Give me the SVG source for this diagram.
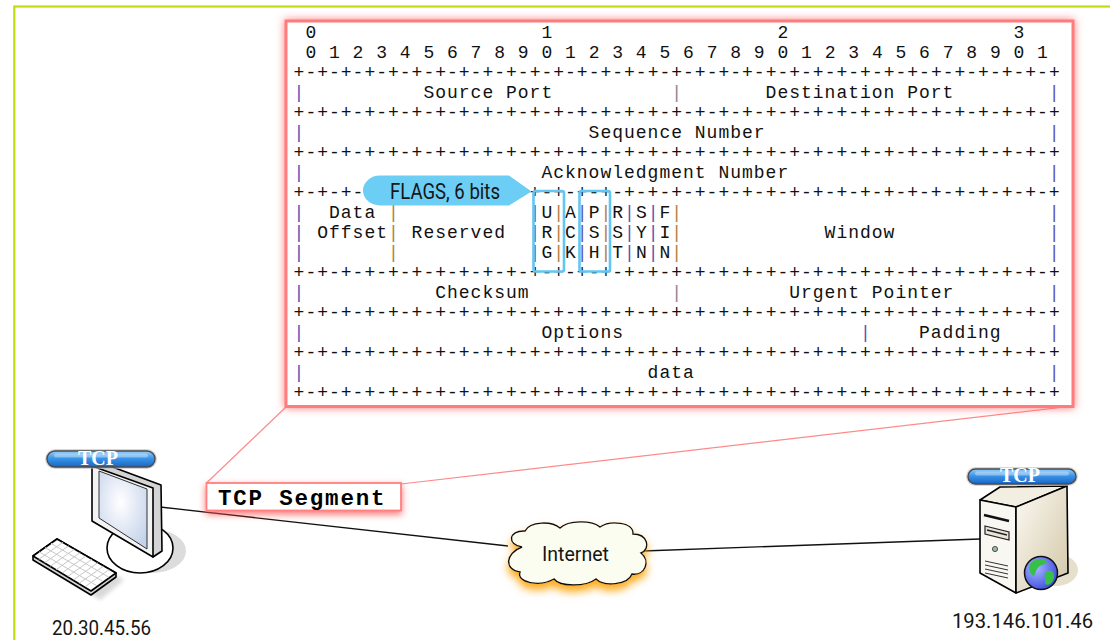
<svg xmlns="http://www.w3.org/2000/svg" width="1110" height="640" viewBox="0 0 1110 640">
<defs>
<style>
.m{font-family:"Liberation Mono","DejaVu Sans Mono",monospace;font-size:18px;letter-spacing:1px;fill:#111}
.b{fill:#5a52b4}
.o{fill:#b4803c}
.g{fill:#8c8494}
.lbl{font-family:Roboto,"Liberation Sans",sans-serif;fill:#151515}
.pill{stroke:#4a4a4a;stroke-width:1.4;fill:url(#pillG)}
.pilltxt{font-family:"Liberation Serif",serif;font-weight:bold;font-size:20px;fill:#fff;text-anchor:middle}
.flag{fill:none;stroke:#62c6f2;stroke-width:2.6}
.ink{stroke:#000;stroke-width:1.6;stroke-linejoin:round}
.key{stroke:#c8c8c8;stroke-width:1}
</style>
<linearGradient id="pillG" x1="0" y1="0" x2="0" y2="1">
<stop offset="0" stop-color="#9ad0fa"/><stop offset="0.45" stop-color="#3b95e8"/><stop offset="1" stop-color="#1766c6"/>
</linearGradient>
<radialGradient id="scr" cx="0.45" cy="0.4" r="0.7">
<stop offset="0" stop-color="#ffffff"/><stop offset="1" stop-color="#c4d2ea"/>
</radialGradient>
<linearGradient id="srvSide" x1="0" y1="0" x2="1" y2="1">
<stop offset="0" stop-color="#fcfaf4"/><stop offset="1" stop-color="#d2c6a6"/>
</linearGradient>
<radialGradient id="globeG" cx="0.35" cy="0.35" r="0.75">
<stop offset="0" stop-color="#a8b6ff"/><stop offset="1" stop-color="#3646dc"/>
</radialGradient>
<filter id="redGlow" x="-10%" y="-10%" width="120%" height="120%">
<feGaussianBlur in="SourceAlpha" stdDeviation="4.5" result="bl"/>
<feFlood flood-color="#ff5a5a" flood-opacity="0.8"/>
<feComposite in2="bl" operator="in"/>
<feMerge><feMergeNode/><feMergeNode in="SourceGraphic"/></feMerge>
</filter>
<filter id="labelGlow" x="-20%" y="-50%" width="140%" height="220%">
<feGaussianBlur in="SourceAlpha" stdDeviation="3.5" result="bl"/>
<feOffset dy="3" result="of"/>
<feFlood flood-color="#ff5050" flood-opacity="0.8"/>
<feComposite in2="of" operator="in"/>
<feMerge><feMergeNode/><feMergeNode in="SourceGraphic"/></feMerge>
</filter>
<filter id="cloudGlow" x="-20%" y="-30%" width="140%" height="170%">
<feGaussianBlur in="SourceAlpha" stdDeviation="4" result="bl"/>
<feOffset dy="6" result="of"/>
<feFlood flood-color="#ffa000" flood-opacity="0.9"/>
<feComposite in2="of" operator="in"/>
<feMerge><feMergeNode/><feMergeNode in="SourceGraphic"/></feMerge>
</filter>
<filter id="soft" x="-30%" y="-30%" width="160%" height="160%">
<feGaussianBlur stdDeviation="2"/>
</filter>
</defs>

<!-- outer frame -->
<rect x="14.3" y="6.5" width="1200" height="700" fill="#fff" stroke="#c2dc0c" stroke-width="2.2"/>

<!-- links -->
<g id="connectors" fill="none">
<line x1="286" y1="407" x2="206.5" y2="483" stroke="#ff8a8a" stroke-width="1.2"/>
<line x1="401" y1="484" x2="1073" y2="406" stroke="#ff8a8a" stroke-width="1.2"/>
<line x1="160" y1="507" x2="508" y2="546" stroke="#111" stroke-width="1.3"/>
<line x1="643" y1="551" x2="980" y2="539" stroke="#111" stroke-width="1.3"/>
</g>

<!-- TCP header layout -->
<g id="tcp-header">
<rect x="286" y="21" width="787" height="385.5" fill="#fff" stroke="#ff7c7c" stroke-width="3" filter="url(#redGlow)"/>
<g class="m">
<text y="37.5"><tspan x="305.4">0</tspan><tspan x="541.4">1</tspan><tspan x="777.4">2</tspan><tspan x="1013.4">3</tspan></text>
<text x="305.4" y="57.5">0 1 2 3 4 5 6 7 8 9 0 1 2 3 4 5 6 7 8 9 0 1 2 3 4 5 6 7 8 9 0 1</text>
<text x="293.6" y="77.5">+-+-+-+-+-+-+-+-+-+-+-+-+-+-+-+-+-+-+-+-+-+-+-+-+-+-+-+-+-+-+-+-+</text>
<text y="97.5"><tspan class="b" x="293.6">|</tspan><tspan x="423.4">Source Port</tspan><tspan class="g" x="671.2">|</tspan><tspan x="765.6">Destination Port</tspan><tspan class="b" x="1048.8">|</tspan></text>
<text x="293.6" y="117.5">+-+-+-+-+-+-+-+-+-+-+-+-+-+-+-+-+-+-+-+-+-+-+-+-+-+-+-+-+-+-+-+-+</text>
<text y="137.5"><tspan class="b" x="293.6">|</tspan><tspan x="588.6">Sequence Number</tspan><tspan class="b" x="1048.8">|</tspan></text>
<text x="293.6" y="157.5">+-+-+-+-+-+-+-+-+-+-+-+-+-+-+-+-+-+-+-+-+-+-+-+-+-+-+-+-+-+-+-+-+</text>
<text y="177.5"><tspan class="b" x="293.6">|</tspan><tspan x="541.4">Acknowledgment Number</tspan><tspan class="b" x="1048.8">|</tspan></text>
<text y="197.5"><tspan x="293.6">+-+-+-</tspan><tspan x="529.6">+-+-+-+-+-+-+-+-+-+-+-+-+-+-+-+-+-+-+-+-+-+-+</tspan></text>
<text y="217.5"><tspan class="b" x="293.6">|</tspan><tspan x="329">Data</tspan><tspan class="o" x="388">|</tspan><tspan class="b" x="529.6">|</tspan>U<tspan class="o">|</tspan>A<tspan class="b">|</tspan>P<tspan class="o">|</tspan>R<tspan class="b">|</tspan>S<tspan class="b">|</tspan>F<tspan class="o">|</tspan><tspan class="b" x="1048.8">|</tspan></text>
<text y="237.5"><tspan class="b" x="293.6">|</tspan><tspan x="317.2">Offset</tspan><tspan class="o" x="388">|</tspan><tspan x="411.6">Reserved</tspan><tspan class="b" x="529.6">|</tspan>R<tspan class="o">|</tspan>C<tspan class="b">|</tspan>S<tspan class="o">|</tspan>S<tspan class="b">|</tspan>Y<tspan class="b">|</tspan>I<tspan class="o">|</tspan><tspan x="824.6">Window</tspan><tspan class="b" x="1048.8">|</tspan></text>
<text y="257.5"><tspan class="b" x="293.6">|</tspan><tspan class="o" x="388">|</tspan><tspan class="b" x="529.6">|</tspan>G<tspan class="o">|</tspan>K<tspan class="b">|</tspan>H<tspan class="o">|</tspan>T<tspan class="b">|</tspan>N<tspan class="b">|</tspan>N<tspan class="o">|</tspan><tspan class="b" x="1048.8">|</tspan></text>
<text x="293.6" y="277.5">+-+-+-+-+-+-+-+-+-+-+-+-+-+-+-+-+-+-+-+-+-+-+-+-+-+-+-+-+-+-+-+-+</text>
<text y="297.5"><tspan class="b" x="293.6">|</tspan><tspan x="435.2">Checksum</tspan><tspan class="g" x="671.2">|</tspan><tspan x="789.2">Urgent Pointer</tspan><tspan class="b" x="1048.8">|</tspan></text>
<text x="293.6" y="317.5">+-+-+-+-+-+-+-+-+-+-+-+-+-+-+-+-+-+-+-+-+-+-+-+-+-+-+-+-+-+-+-+-+</text>
<text y="337.5"><tspan class="b" x="293.6">|</tspan><tspan x="541.4">Options</tspan><tspan class="b" x="860">|</tspan><tspan x="919">Padding</tspan><tspan class="b" x="1048.8">|</tspan></text>
<text x="293.6" y="357.5">+-+-+-+-+-+-+-+-+-+-+-+-+-+-+-+-+-+-+-+-+-+-+-+-+-+-+-+-+-+-+-+-+</text>
<text y="377.5"><tspan class="b" x="293.6">|</tspan><tspan x="647.6">data</tspan><tspan class="b" x="1048.8">|</tspan></text>
<text x="293.6" y="397.5">+-+-+-+-+-+-+-+-+-+-+-+-+-+-+-+-+-+-+-+-+-+-+-+-+-+-+-+-+-+-+-+-+</text>
</g>
<!-- URG and PSH highlights -->
<rect class="flag" x="533.5" y="191" width="30.5" height="80.5" rx="2"/>
<rect class="flag" x="579.5" y="191" width="30.5" height="80.5" rx="2"/>
</g>

<!-- flags callout -->
<g id="flags-callout">
<path d="M380,175.5 H509 L531.5,191.5 L509,205.5 H380 A17,15 0 0 1 380,175.5 Z" fill="#6ccdf5"/>
<text class="lbl" x="390" y="199" font-size="22" textLength="110" lengthAdjust="spacingAndGlyphs">FLAGS, 6 bits</text>
</g>

<!-- segment label -->
<g id="tcp-segment">
<rect x="206.5" y="483" width="194.5" height="27.5" fill="#fff" stroke="#ff8080" stroke-width="1.8" filter="url(#labelGlow)"/>
<text x="218" y="505" font-family="'Liberation Mono','DejaVu Sans Mono',monospace" font-weight="bold" font-size="22.5" letter-spacing="1.8" fill="#000">TCP Segment</text>
</g>

<!-- client workstation -->
<g id="client">
<path d="M42,563 L64,547 L124,580 L100,600 Z" fill="#000" opacity="0.15" filter="url(#soft)"/>
<path class="ink" d="M33,556 L57,539 L116,573 L116,577 L91,595 L33,560 Z" fill="#d6d6d6"/>
<path class="ink" d="M33,556 L57,539 L116,573 L91,591 Z" fill="#fff"/>
<g class="key">
<line x1="38.8" y1="559.4" x2="62.8" y2="542.4"/><line x1="44.6" y1="562.8" x2="68.6" y2="545.8"/>
<line x1="50.4" y1="566.2" x2="74.4" y2="549.2"/><line x1="56.2" y1="569.6" x2="80.2" y2="552.6"/>
<line x1="62" y1="573" x2="86" y2="556"/><line x1="67.8" y1="576.4" x2="91.8" y2="559.4"/>
<line x1="73.6" y1="579.8" x2="97.6" y2="562.8"/><line x1="79.4" y1="583.2" x2="103.4" y2="566.2"/>
<line x1="85.2" y1="586.6" x2="109.2" y2="569.6"/>
<line x1="39" y1="551.8" x2="97" y2="585.8"/><line x1="45" y1="547.5" x2="103" y2="581.5"/>
<line x1="51" y1="543.3" x2="109" y2="577.3"/>
</g>
<ellipse cx="152" cy="551" rx="34" ry="22" fill="#dcdcdc"/>
<ellipse class="ink" cx="140" cy="548" rx="33" ry="25" fill="#fff"/>
<path class="ink" d="M92,466 L99,462 L161,485 L162,551 L153,557 Z" fill="#d4d4d4"/>
<path class="ink" d="M92,466 L153,488 L153,557 L92,521 Z" fill="#f3f3f3"/>
<path d="M99,471 L147,489 L147,549 L99,518 Z" fill="url(#scr)" stroke="#333" stroke-width="1"/>
<rect x="45" y="449" width="112" height="20" rx="10" fill="#bdbdbd" opacity="0.6"/>
<rect class="pill" x="47" y="451" width="108" height="16" rx="8"/>
<rect x="54" y="453.5" width="94" height="4" rx="2" fill="#fff" opacity="0.35"/>
<text class="pilltxt" x="98" y="465">TCP</text>
<text class="lbl" x="52" y="635" font-size="21" textLength="99" lengthAdjust="spacingAndGlyphs">20.30.45.56</text>
</g>

<!-- internet cloud -->
<g id="internet">
<path d="M522,547 C507,545 508,530 525,531 C530,521 552,521 560,528 C568,520 592,520 600,527 C610,520 634,522 633,534 C648,534 651,549 641,553 C651,561 645,576 632,574 C628,585 604,587 596,579 C586,587 560,587 554,579 C540,587 516,583 520,572 C504,570 505,553 522,547 Z" fill="#fbfdf1" stroke="#111" stroke-width="1.4" filter="url(#cloudGlow)"/>
<text class="lbl" x="542" y="561" font-size="21" textLength="67" lengthAdjust="spacingAndGlyphs">Internet</text>
</g>

<!-- web server -->
<g id="server">
<ellipse cx="1056" cy="570" rx="22" ry="16" fill="#e6dfcb"/>
<path class="ink" d="M980,500 L1000,487 L1067,486 L1016,507 Z" fill="#f2eee2"/>
<path class="ink" d="M980,500 L1016,507 L1016,593 L980,573 Z" fill="#f9f7f1"/>
<path class="ink" d="M1016,507 L1067,486 L1068,573 L1016,593 Z" fill="url(#srvSide)"/>
<path d="M984,515 L1009,521" stroke="#111" stroke-width="2.6"/>
<path d="M985,526 L1009,532 L1009,540 L985,534 Z" fill="#e8e4d8" stroke="#222" stroke-width="1.2"/>
<path d="M987,530 L1007,535" stroke="#222" stroke-width="1.4"/>
<circle cx="995" cy="549" r="2.6" fill="#9bb8a8" stroke="#333" stroke-width="0.8"/>
<g stroke="#333" stroke-width="1">
<line x1="985" y1="561" x2="1008" y2="566"/><line x1="985" y1="565" x2="1008" y2="570"/>
<line x1="985" y1="569" x2="1008" y2="574"/><line x1="985" y1="573" x2="1008" y2="578"/>
</g>
<circle cx="1041" cy="573" r="16.5" fill="url(#globeG)" stroke="#111" stroke-width="1.5"/>
<path d="M1031,563 C1035,558 1044,558 1047,562 C1044,566 1040,564 1038,568 C1035,570 1036,575 1033,576 C1029,572 1028,566 1031,563 Z" fill="#36c048"/>
<path d="M1046,572 C1051,569 1055,572 1054,578 C1052,584 1047,587 1045,583 C1046,579 1043,576 1046,572 Z" fill="#36c048"/>
<rect x="966" y="467" width="112" height="19" rx="9.5" fill="#bdbdbd" opacity="0.6"/>
<rect class="pill" x="968" y="469" width="108" height="15" rx="7.5"/>
<rect x="975" y="471.5" width="94" height="4" rx="2" fill="#fff" opacity="0.35"/>
<text class="pilltxt" x="1020" y="482">TCP</text>
<text class="lbl" x="952" y="628" font-size="21" textLength="141" lengthAdjust="spacingAndGlyphs">193.146.101.46</text>
</g>
</svg>
